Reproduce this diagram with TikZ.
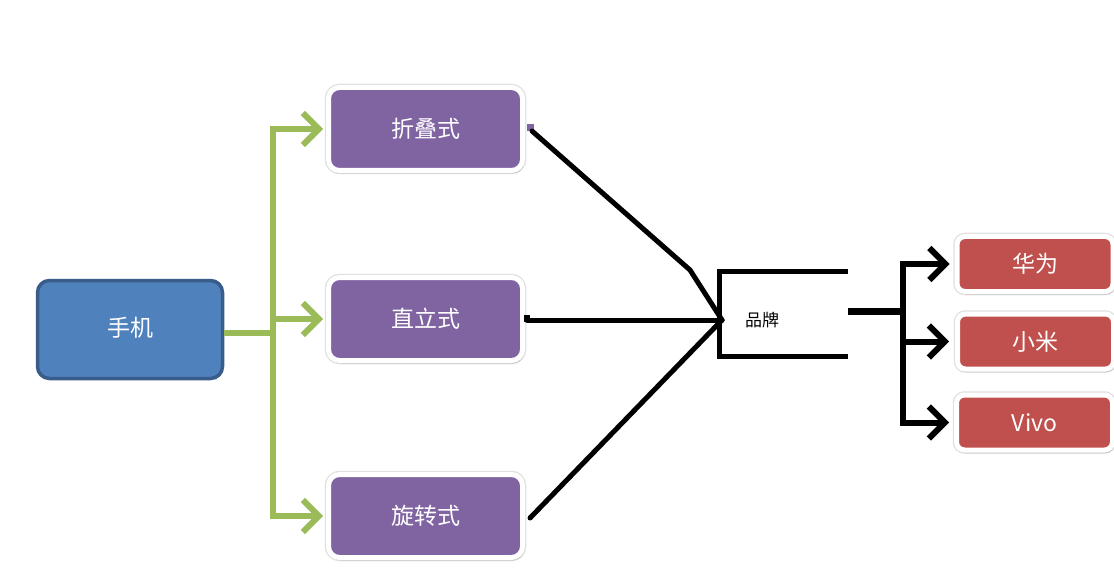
\documentclass[tikz,border=0pt]{standalone}
\usepackage{fontspec}
\setmainfont{Noto Sans CJK SC}
\usetikzlibrary{arrows.meta,shadows}
\definecolor{blueF}{HTML}{4F81BD}
\definecolor{blueD}{HTML}{385D8A}
\definecolor{purp}{HTML}{8064A2}
\definecolor{redF}{HTML}{C0504D}
\definecolor{greenL}{HTML}{9BBB59}
\tikzset{
  x=1pt,y=-1pt,
  mainbox/.style={draw=blueD,fill=blueF,line width=3.5pt,rounded corners=12pt,
    minimum width=185pt,minimum height=98pt,text=white,font=\fontsize{23}{23}\selectfont,inner sep=0pt},
  typebox/.style={draw=white,fill=purp,line width=5pt,rounded corners=11pt,
    minimum width=194pt,minimum height=83pt,text=white,font=\fontsize{23}{23}\selectfont,inner sep=0pt,
    preaction={draw=black!12,line width=7.5pt},
    drop shadow={shadow xshift=1.5pt,shadow yshift=-3pt,opacity=0.3}},
  brandbox/.style={draw=white,fill=redF,line width=5pt,rounded corners=8pt,
    minimum width=156pt,minimum height=55pt,text=white,font=\fontsize{23}{23}\selectfont,inner sep=0pt,
    preaction={draw=black!12,line width=7.5pt},
    drop shadow={shadow xshift=1.5pt,shadow yshift=-3pt,opacity=0.3}},
  garrow/.style={draw=greenL,line width=6pt,
    -{Straight Barb[length=16pt,width=32pt,line width=6pt]}},
  blink/.style={draw=black,line width=5pt,line cap=round,line join=round},
  barrow/.style={draw=black,line width=6pt,
    -{Straight Barb[length=16pt,width=32pt,line width=6pt]}},
}
\begin{document}
\begin{tikzpicture}
\useasboundingbox (0,0) rectangle (1114,580);
\fill[white] (0,0) rectangle (1114,580);

% main node
\node[mainbox] (sj) at (130,329.5) {\raisebox{5pt}{手机}};

% type nodes
\node[typebox] (p1) at (425.5,129) {折叠式};
\node[typebox] (p2) at (425.5,319) {直立式};
\node[typebox] (p3) at (425.5,516) {旋转式};

% brand box (three sides)
\node[minimum width=128pt,minimum height=84pt,inner sep=0pt] (bp) at (784,314) {};
\draw[line width=5pt] (bp.north east) -- (bp.north west) -- (bp.south west) -- (bp.south east);
\node[font=\fontsize{17}{17}\selectfont,inner sep=0pt] (bt) at (762,320) {品牌};

% brand nodes
\node[brandbox] (b1) at (1035,264) {华为};
\node[brandbox] (b2) at (1035.5,341.5) {小米};
\node[brandbox] (b3) at (1034.5,422.5) {Vivo};

% green connectors
\coordinate (gj) at (273,333);
\draw[draw=greenL,line width=6pt] ([yshift=-3.5pt]sj.east) -- (gj);
\draw[garrow] ([yshift=-3pt]gj) |- ([xshift=-3pt]p1.west);
\draw[garrow] (gj) |- ([xshift=-3pt]p2.west);
\draw[garrow] ([yshift=3pt]gj) |- ([xshift=-3pt]p3.west);

% black lines to brand box
\coordinate (bin) at (722,320);
\coordinate (bk) at (690,270);
\fill[purp] ([xshift=2pt,yshift=5pt]p1.east) rectangle ++(7,7);
\draw[blink] ([xshift=7pt,yshift=-2pt]p1.east) -- (bk) -- (bin);
\fill[black] ([xshift=-1pt,yshift=4pt]p2.east) rectangle ++(6,7);
\draw[blink] ([xshift=2pt,yshift=-1pt]p2.east) -- (bin);
\draw[blink] ([xshift=5pt,yshift=-2pt]p3.east) -- (bin);

% black connectors to brands
\coordinate (bj) at (903,311);
\draw[line width=7pt] ([yshift=3pt]bp.east) -- (bj);
\draw[barrow] ([yshift=-3pt]bj) |- ([xshift=-5pt]b1.west);
\draw[barrow] (bj) |- ([xshift=-6pt]b2.west);
\draw[barrow] ([yshift=3pt]bj) |- ([xshift=-5pt]b3.west);
\end{tikzpicture}
\end{document}
